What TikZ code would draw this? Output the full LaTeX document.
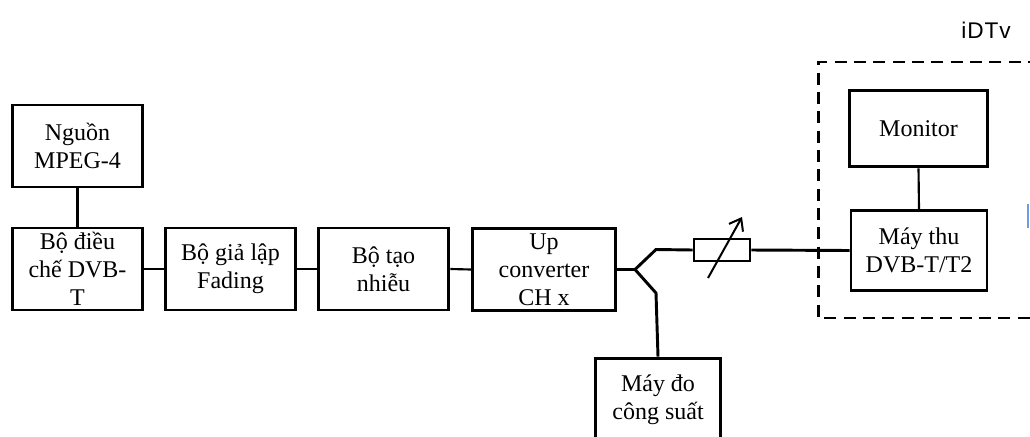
\documentclass[tikz,border=0pt]{standalone}
\usepackage{fontspec}
\setmainfont{Liberation Serif}
\newfontfamily\labelsans[LetterSpace=4]{Liberation Sans}
\usetikzlibrary{arrows.meta}
\tikzset{
  blk/.style={draw, line width=2.2pt, align=center, inner sep=0pt,
    font=\fontsize{18}{21}\selectfont},
  wire/.style={line width=1.6pt},
  bigwire/.style={line width=2.2pt},
  dashbox/.style={draw, line width=2.2pt, dash pattern=on 9pt off 5.5pt},
}
\begin{document}
\begin{tikzpicture}[x=0.75pt, y=-0.75pt]
\useasboundingbox (0,0) rectangle (1030,436);
% blocks
\node[blk, minimum width=98pt, minimum height=61.5pt] (nguon) at (77.5,146) {Nguồn\\MPEG-4};
\node[blk, minimum width=98pt, minimum height=61.5pt] (dieuche) at (77.5,269) {Bộ điều\\chế DVB-\\T};
\node[blk, minimum width=98pt, minimum height=61.5pt] (fading) at (230.5,269) {Bộ giả lập\\Fading};
\node[blk, minimum width=98pt, minimum height=61.5pt] (nhieu) at (383.5,269) {Bộ tạo\\nhiễu};
\node[blk, minimum width=107.5pt, minimum height=61pt] (upconv) at (544,269.5) {Up\\converter\\CH x};
\node[draw, line width=2pt, minimum width=42pt, minimum height=16.5pt, inner sep=0pt] (atten) at (722,250) {};
\node[blk, minimum width=94pt, minimum height=62pt] (maydo) at (658,399.5) {Máy đo\\công suất};
\node[blk, minimum width=104pt, minimum height=57.5pt] (monitor) at (918.5,128.5) {Monitor};
\node[blk, minimum width=102pt, minimum height=59.5pt] (maythu) at (919,250.5) {Máy thu\\DVB-T/T2};
% dashed iDTv frame
\draw[dashbox] (1040,62) -- (818.5,62) -- (818.5,318) -- (1040,318);
\node[font=\labelsans\fontsize{17}{19}\selectfont] (idtv) at (986,30) {iDTv};
% junction
\coordinate (J) at (635,269.5);
\coordinate (A) at (656,249.5);
\coordinate (B) at (656,293);
% connectors
\draw[wire] (nguon.south) -- (dieuche.north);
\draw[wire] (dieuche.east) -- (fading.west);
\draw[wire] (fading.east) -- (nhieu.west);
\draw[wire] (nhieu.east) -- (upconv.west);
\draw[bigwire] (upconv.east) -- (J) -- (A) -- (atten.west);
\draw[bigwire] (J) -- (B) -- (maydo.north);
\draw[bigwire] (atten.east) -- (maythu.west);
\draw[wire] (monitor.south) -- (maythu.north);
% variable attenuator arrow
\coordinate (arrS) at (708,278);
\coordinate (arrE) at (742,217);
\draw[line width=1.5pt, -{Straight Barb[length=8pt, width=12pt, line width=1.5pt]}] (arrS) -- (arrE);
% small blue mark
\coordinate (bm1) at (1028,204);
\coordinate (bm2) at (1028,228);
\draw[color={rgb,255:red,110;green,155;blue,225}, line width=1.2pt] (bm1) -- (bm2);
\end{tikzpicture}
\end{document}
